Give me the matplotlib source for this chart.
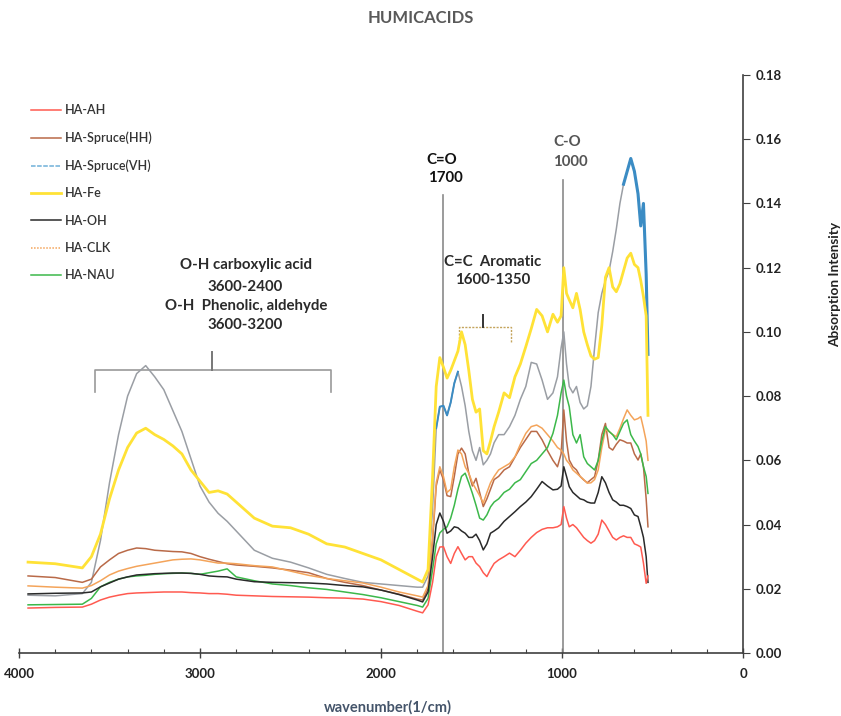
import matplotlib
matplotlib.use("Agg")
import matplotlib.pyplot as plt
from matplotlib.lines import Line2D
from matplotlib.ticker import MultipleLocator, FormatStrFormatter
import numpy as np

plt.rcParams['font.family'] = ['Lato', 'DejaVu Sans']

# ---------------- data ----------------
wavenumber = [3950, 3800, 3650, 3600, 3550, 3500, 3450, 3400, 3350, 3300,
              3250, 3200, 3150, 3100, 3050, 3000, 2950, 2900, 2850, 2800,
              2700, 2600, 2500, 2400, 2300, 2200, 2100, 2000, 1900, 1800,
              1770, 1740, 1715, 1695, 1675,
              1655, 1635, 1615, 1595, 1575, 1555, 1535, 1515, 1495, 1475,
              1455, 1435, 1415, 1395, 1375, 1350, 1320, 1290, 1260, 1230,
              1200, 1170, 1140, 1110, 1080, 1050, 1025, 1005, 990, 975,
              960, 940, 920, 900, 880, 860, 840, 820, 800, 780,
              760, 740, 720, 700, 680, 660, 640, 620, 600, 580,
              565, 550, 535, 525]

ha_fe = [0.0283, 0.0278, 0.0265, 0.030, 0.037, 0.048, 0.057, 0.064, 0.0685, 0.070,
         0.068, 0.0665, 0.0645, 0.062, 0.057, 0.0535, 0.050, 0.0505, 0.0495, 0.047,
         0.042, 0.0395, 0.039, 0.037, 0.034, 0.033, 0.031, 0.029, 0.026, 0.023,
         0.0221, 0.026, 0.055, 0.083, 0.092,
         0.089, 0.0856, 0.088, 0.091, 0.094, 0.100, 0.096, 0.088, 0.079, 0.075,
         0.076, 0.063, 0.062, 0.066, 0.0705, 0.075, 0.081, 0.0795, 0.086, 0.090,
         0.0954, 0.101, 0.107, 0.105, 0.100, 0.1055, 0.103, 0.105, 0.120, 0.112,
         0.110, 0.1075, 0.112, 0.107, 0.100, 0.096, 0.0925, 0.0915, 0.092, 0.102,
         0.117, 0.120, 0.114, 0.1125, 0.115, 0.119, 0.123, 0.1245, 0.121, 0.120,
         0.116, 0.111, 0.105, 0.074]

ha_spruce_vh = [0.018, 0.0178, 0.0185, 0.022, 0.035, 0.053, 0.068, 0.080, 0.087, 0.0895,
                0.086, 0.082, 0.0755, 0.069, 0.0605, 0.052, 0.047, 0.0435, 0.041, 0.038,
                0.032, 0.0295, 0.0283, 0.0265, 0.0245, 0.0232, 0.022, 0.0215, 0.021, 0.0205,
                0.0205, 0.024, 0.045, 0.070, 0.0767,
                0.077, 0.074, 0.078, 0.084, 0.0876, 0.083, 0.077, 0.069, 0.063, 0.060,
                0.064, 0.0586, 0.060, 0.062, 0.0655, 0.068, 0.068, 0.0705, 0.074, 0.079,
                0.083, 0.0905, 0.090, 0.085, 0.079, 0.081, 0.086, 0.095, 0.100, 0.090,
                0.083, 0.081, 0.083, 0.078, 0.076, 0.077, 0.083, 0.095, 0.106, 0.112,
                0.116, 0.119, 0.125, 0.132, 0.140, 0.146, 0.150, 0.154, 0.150, 0.143,
                0.133, 0.140, 0.118, 0.093]

ha_spruce_hh = [0.024, 0.0235, 0.022, 0.023, 0.0268, 0.029, 0.031, 0.032, 0.0327, 0.0325,
                0.032, 0.0318, 0.0316, 0.0315, 0.031, 0.030, 0.0292, 0.0285, 0.0278, 0.0274,
                0.027, 0.0265, 0.0258, 0.025, 0.0232, 0.022, 0.021, 0.0196, 0.0183, 0.0168,
                0.0165, 0.020, 0.035, 0.052, 0.057,
                0.054, 0.049, 0.0487, 0.055, 0.062, 0.0638, 0.062, 0.056, 0.052, 0.0544,
                0.050, 0.0456, 0.048, 0.051, 0.054, 0.055, 0.057, 0.058, 0.061, 0.064,
                0.0665, 0.069, 0.069, 0.0664, 0.063, 0.060, 0.058, 0.062, 0.0757, 0.066,
                0.0601, 0.058, 0.057, 0.055, 0.0539, 0.053, 0.054, 0.0549, 0.060, 0.068,
                0.0715, 0.064, 0.0632, 0.065, 0.0664, 0.066, 0.0654, 0.0654, 0.062, 0.0601,
                0.062, 0.058, 0.048, 0.0393]

ha_clk = [0.0209, 0.0205, 0.0202, 0.021, 0.0225, 0.0243, 0.0255, 0.0263, 0.027, 0.0275,
          0.028, 0.0285, 0.029, 0.0292, 0.0293, 0.029, 0.0285, 0.028, 0.028, 0.0278,
          0.0272, 0.0268, 0.0255, 0.0242, 0.0232, 0.0225, 0.0218, 0.0205, 0.019, 0.0178,
          0.0174, 0.021, 0.036, 0.053, 0.058,
          0.055, 0.050, 0.051, 0.058, 0.0632, 0.062, 0.058, 0.056, 0.053, 0.051,
          0.049, 0.0467, 0.050, 0.053, 0.055, 0.057, 0.058, 0.059, 0.0611, 0.065,
          0.0684, 0.0705, 0.071, 0.070, 0.068, 0.066, 0.064, 0.0632, 0.062, 0.060,
          0.059, 0.057, 0.056, 0.055, 0.054, 0.0529, 0.053, 0.054, 0.057, 0.064,
          0.0695, 0.069, 0.068, 0.0674, 0.070, 0.073, 0.0757, 0.074, 0.0726, 0.073,
          0.0736, 0.070, 0.066, 0.060]

ha_nau = [0.015, 0.0151, 0.0152, 0.017, 0.0206, 0.022, 0.023, 0.0237, 0.024, 0.0242,
          0.0245, 0.0247, 0.0248, 0.0249, 0.0248, 0.0245, 0.025, 0.0255, 0.0262, 0.0237,
          0.0225, 0.0215, 0.021, 0.0203, 0.0198, 0.019, 0.0182, 0.0172, 0.016, 0.0148,
          0.0143, 0.017, 0.026, 0.034, 0.0374,
          0.0385, 0.0393, 0.042, 0.046, 0.051, 0.055, 0.056, 0.053, 0.0497, 0.046,
          0.042, 0.0414, 0.043, 0.0455, 0.047, 0.048, 0.050, 0.051, 0.053, 0.054,
          0.0565, 0.059, 0.060, 0.062, 0.064, 0.0684, 0.074, 0.081, 0.085, 0.080,
          0.0767, 0.068, 0.0654, 0.068, 0.0611, 0.059, 0.058, 0.057, 0.060, 0.066,
          0.0705, 0.069, 0.068, 0.0664, 0.069, 0.0715, 0.0726, 0.068, 0.066, 0.0643,
          0.062, 0.058, 0.055, 0.0497]

ha_oh = [0.0184, 0.0186, 0.0187, 0.019, 0.0206, 0.0218, 0.023, 0.0237, 0.0243, 0.0245,
         0.0247, 0.0248, 0.0249, 0.0249, 0.0248, 0.0245, 0.024, 0.0238, 0.0237, 0.023,
         0.0222, 0.022, 0.0219, 0.0218, 0.0215, 0.021, 0.0206, 0.0196, 0.0182, 0.0165,
         0.0159, 0.019, 0.030, 0.040, 0.0436,
         0.041, 0.0373, 0.038, 0.0393, 0.039, 0.038, 0.0373, 0.036, 0.036, 0.037,
         0.035, 0.0321, 0.034, 0.0373, 0.038, 0.039, 0.041, 0.0425, 0.044, 0.0456,
         0.047, 0.0487, 0.051, 0.0534, 0.052, 0.0508, 0.051, 0.052, 0.058, 0.055,
         0.0518, 0.050, 0.049, 0.048, 0.0477, 0.047, 0.0467, 0.0467, 0.050, 0.0549,
         0.053, 0.050, 0.0477, 0.047, 0.046, 0.046, 0.0456, 0.045, 0.043, 0.0425,
         0.0394, 0.036, 0.030, 0.022]

ha_ah = [0.014, 0.0142, 0.0143, 0.0152, 0.0165, 0.0174, 0.018, 0.0185, 0.0187, 0.0188,
         0.0189, 0.019, 0.019, 0.019, 0.0188, 0.0187, 0.0185, 0.0185, 0.0183, 0.018,
         0.0178, 0.0176, 0.0175, 0.0174, 0.0172, 0.0171, 0.0168, 0.016, 0.0148, 0.013,
         0.0125, 0.015, 0.022, 0.030, 0.033,
         0.0331, 0.030, 0.0279, 0.031, 0.0331, 0.031, 0.029, 0.030, 0.030, 0.028,
         0.0269, 0.025, 0.0238, 0.026, 0.0279, 0.029, 0.030, 0.0311, 0.030, 0.032,
         0.0342, 0.036, 0.0375, 0.0385, 0.039, 0.039, 0.0393, 0.040, 0.0456, 0.042,
         0.0393, 0.040, 0.039, 0.0375, 0.036, 0.035, 0.0342, 0.035, 0.037, 0.0414,
         0.040, 0.038, 0.036, 0.0352, 0.036, 0.0365, 0.036, 0.036, 0.034, 0.0335,
         0.033, 0.028, 0.0217, 0.024]

series_names = ["HA-AH", "HA-Spruce(HH)", "HA-Spruce(VH)", "HA-Fe", "HA-OH", "HA-CLK", "HA-NAU"]

for nm, s in zip(series_names, [ha_ah, ha_spruce_hh, ha_spruce_vh, ha_fe, ha_oh, ha_clk, ha_nau]):
    if len(s) != len(wavenumber):
        raise ValueError(f"{nm}: {len(s)} vs {len(wavenumber)}")

# annotation positions (wavenumber / intensity)
co_line = 1655
c_o_line = 995

# ---------------- figure ----------------
W, H = 841, 716
fig = plt.figure(figsize=(W / 100, H / 100), dpi=100)
ax = fig.add_axes([19 / W, 1 - 653 / H, (743 - 19) / W, (653 - 75) / H])

x = np.array(wavenumber)
c_red = '#ff5a50'
c_brown = '#b96a48'
c_gray = '#9a9ea4'
c_blue = '#3b8cc4'
c_yellow = '#ffe236'
c_black = '#2a2a2a'
c_orange = '#f4a45a'
c_green = '#3cb84a'

ax.plot(x, ha_spruce_vh, color=c_gray, lw=1.1, zorder=3)
vh = np.array(ha_spruce_vh)
m1 = (x <= 1700) & (x >= 1560)
m2 = (x <= 660)
ax.plot(x[m1], vh[m1], color=c_blue, lw=1.4, zorder=3.1)
ax.plot(x[m2], vh[m2], color=c_blue, lw=2.2, zorder=3.1)
ax.plot(x, ha_fe, color=c_yellow, lw=2.0, zorder=4)
ax.plot(x, ha_spruce_hh, color=c_brown, lw=1.1, zorder=3)
ax.plot(x, ha_clk, color=c_orange, lw=1.1, zorder=3)
ax.plot(x, ha_nau, color=c_green, lw=1.1, zorder=3)
ax.plot(x, ha_oh, color=c_black, lw=1.1, zorder=3)
ax.plot(x, ha_ah, color=c_red, lw=1.1, zorder=3)

ax.set_xlim(4000, 0)
ax.set_ylim(0, 0.18)

for sp in ['left', 'top']:
    ax.spines[sp].set_visible(False)
ax.spines['bottom'].set_color('#404040')
ax.spines['right'].set_color('#404040')
ax.spines['bottom'].set_linewidth(1.2)
ax.spines['right'].set_linewidth(1.2)

ax.yaxis.tick_right()
ax.yaxis.set_major_locator(MultipleLocator(0.02))
ax.yaxis.set_major_formatter(FormatStrFormatter('%.2f'))
ax.xaxis.set_major_locator(MultipleLocator(1000))
ax.xaxis.set_minor_locator(MultipleLocator(200))
ax.tick_params(axis='x', which='major', direction='inout', length=7, width=1, color='#404040',
               labelsize=9.5, pad=7)
ax.tick_params(axis='x', which='minor', direction='in', length=3, width=0.8, color='#404040')
ax.tick_params(axis='y', which='major', direction='out', length=5, width=0.8, color='#404040',
               labelsize=9.5, pad=4)
for lab in ax.get_xticklabels() + ax.get_yticklabels():
    lab.set_fontweight('bold')
    lab.set_color('#222222')

# vertical marker lines
ax.plot([co_line, co_line], [0.0, 0.1427], color='#8a8a8a', lw=1.2, zorder=2)
ax.plot([c_o_line, c_o_line], [0.0, 0.1473], color='#8a8a8a', lw=1.2, zorder=2)

# O-H bracket
ax.plot([3580, 3580, 2279, 2279], [0.0813, 0.0882, 0.0882, 0.0813], color='#9a9a9a', lw=1.2, zorder=2)
ax.plot([2932, 2932], [0.0882, 0.0938], color='#777777', lw=1.4, zorder=2)
# C=C bracket
ax.plot([1571, 1571, 1284, 1284], [0.097, 0.1015, 0.1015, 0.097], color='#c4a45c', lw=1.0,
        ls=(0, (1.5, 1)), zorder=2)
ax.plot([1435, 1435], [0.1015, 0.1053], color='#333333', lw=1.4, zorder=2)


def ftext(px, py, s, **kw):
    fig.text(px / W, 1 - py / H, s, ha='center', va='center', **kw)


ftext(421, 18, 'HUMICACIDS', fontsize=12, fontweight='bold', color='#595959')
ftext(388, 707, 'wavenumber(1/cm)', fontsize=10.5, fontweight='bold', color='#44546a')
ftext(835, 284, 'Absorption Intensity', fontsize=9.8, fontweight='bold', color='#222222', rotation=90)

ann = dict(fontsize=10.8, fontweight='bold', color='#2a2a2a')
ftext(246, 265, 'O-H carboxylic acid', **ann)
ftext(245, 287, '3600-2400', **ann)
ftext(246, 306, 'O-H  Phenolic, aldehyde', **ann)
ftext(245, 325, '3600-3200', **ann)

ftext(442, 160, 'C=O', fontsize=10.8, fontweight='bold', color='#111111')
ftext(445, 178, '1700', fontsize=10.8, fontweight='bold', color='#111111')
ftext(567, 142, 'C-O', fontsize=10.8, fontweight='bold', color='#555555')
ftext(570, 162, '1000', fontsize=10.8, fontweight='bold', color='#555555')
ftext(493, 262, 'C=C  Aromatic', **ann)
ftext(493, 280, '1600-1350', **ann)

# legend
handles = [
    Line2D([], [], color=c_red, lw=1.1),
    Line2D([], [], color=c_brown, lw=1.1),
    Line2D([], [], color='#6fb0d8', lw=1.1, ls=(0, (3, 1))),
    Line2D([], [], color=c_yellow, lw=2.0),
    Line2D([], [], color=c_black, lw=1.1),
    Line2D([], [], color=c_orange, lw=1.1, ls=(0, (1, 1))),
    Line2D([], [], color=c_green, lw=1.1),
]
leg = fig.legend(handles, series_names, loc='upper left', bbox_to_anchor=(31 / W, 1 - 104 / H),
                 frameon=False, handlelength=2.4, handletextpad=0.3,
                 labelspacing=1.23, borderpad=0, borderaxespad=0,
                 prop={'size': 9, 'weight': 'semibold'})
for t in leg.get_texts():
    t.set_color('#333333')

fig.savefig('out.png', dpi=100)
